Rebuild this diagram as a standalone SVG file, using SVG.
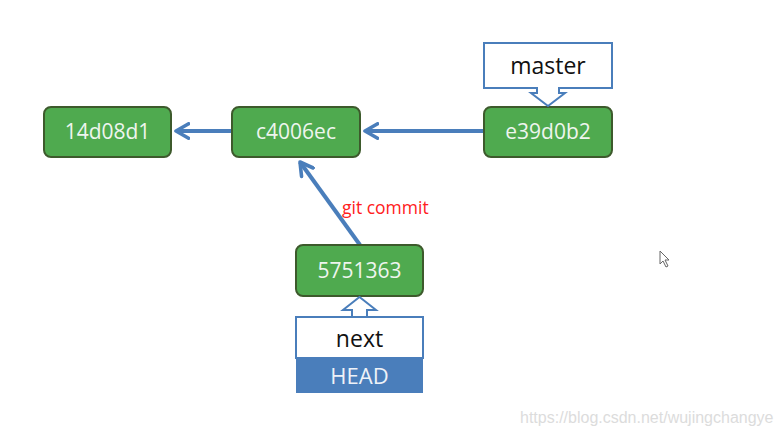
<svg xmlns="http://www.w3.org/2000/svg" width="782" height="435" viewBox="0 0 782 435">
<style>
.node rect{fill:#4faa4f;stroke:#3d5a2c;stroke-width:2}
.node text{fill:#eef5ee;font-family:"Open Sans","Liberation Sans",sans-serif;font-size:21px;text-anchor:middle}
.callout path{fill:#fff;stroke:#4a7ebb;stroke-width:2}
.callout text{fill:#111;font-family:"Open Sans","Liberation Sans",sans-serif;font-size:23px;text-anchor:middle}
.edge{stroke:#4a7ebb;stroke-width:4;fill:none;marker-end:url(#arr)}
</style>
<defs>
<marker id="arr" viewBox="0 0 10 10" refX="8" refY="5" markerWidth="4.5" markerHeight="4.5" orient="auto" markerUnits="strokeWidth">
<path d="M1,1 L8,5 L1,9" fill="none" stroke="#4a7ebb" stroke-width="2" stroke-linecap="round" stroke-linejoin="round"/>
</marker>
</defs>
<rect width="782" height="435" fill="#fff"/>
<g id="connectors">
<line class="edge" x1="484" y1="131" x2="365" y2="131"/>
<line class="edge" x1="232" y1="131" x2="176" y2="131"/>
<line class="edge" x1="360" y1="245" x2="300" y2="162"/>
</g>
<g id="n14d08d1" class="node"><rect x="44" y="107" width="127" height="50" rx="7"/><text x="107.5" y="139">14d08d1</text></g>
<g id="nc4006ec" class="node"><rect x="232" y="107" width="128" height="50" rx="7"/><text x="296" y="139">c4006ec</text></g>
<g id="ne39d0b2" class="node"><rect x="484" y="107" width="128" height="50" rx="7"/><text x="548" y="139">e39d0b2</text></g>
<g id="n5751363" class="node"><rect x="296" y="245" width="127" height="51" rx="7"/><text x="359.5" y="278">5751363</text></g>
<g id="master" class="callout">
<path d="M484,43 H612 V88 H559 V93 H565 L548,106 L531,93 H537 V88 H484 Z"/>
<text x="548" y="74">master</text>
</g>
<g id="next" class="callout">
<path d="M296,317 H423 V358 H296 Z M352,317 V310 H343 L359.5,297 L376,310 H367 V317"/>
<text x="359.5" y="347">next</text>
</g>
<g id="head">
<rect x="296" y="358" width="127" height="35" fill="#4a7ebb"/>
<text x="359.5" y="384" fill="#eef2f8" font-family="'Open Sans','Liberation Sans',sans-serif" font-size="22" text-anchor="middle">HEAD</text>
</g>
<text x="342" y="214" fill="#ff2020" font-family="'Open Sans','Liberation Sans',sans-serif" font-size="17.5">git commit</text>
<path d="M660,251 V264 L663,261 L666,267 L668,266 L665,260 L669,260 Z" fill="#fff" stroke="#666" stroke-width="1"/>
<text x="520" y="423" fill="#dcdcdc" font-family="'Liberation Sans',Arial,sans-serif" font-size="16">https://blog.csdn.net/wujingchangye</text>
</svg>
